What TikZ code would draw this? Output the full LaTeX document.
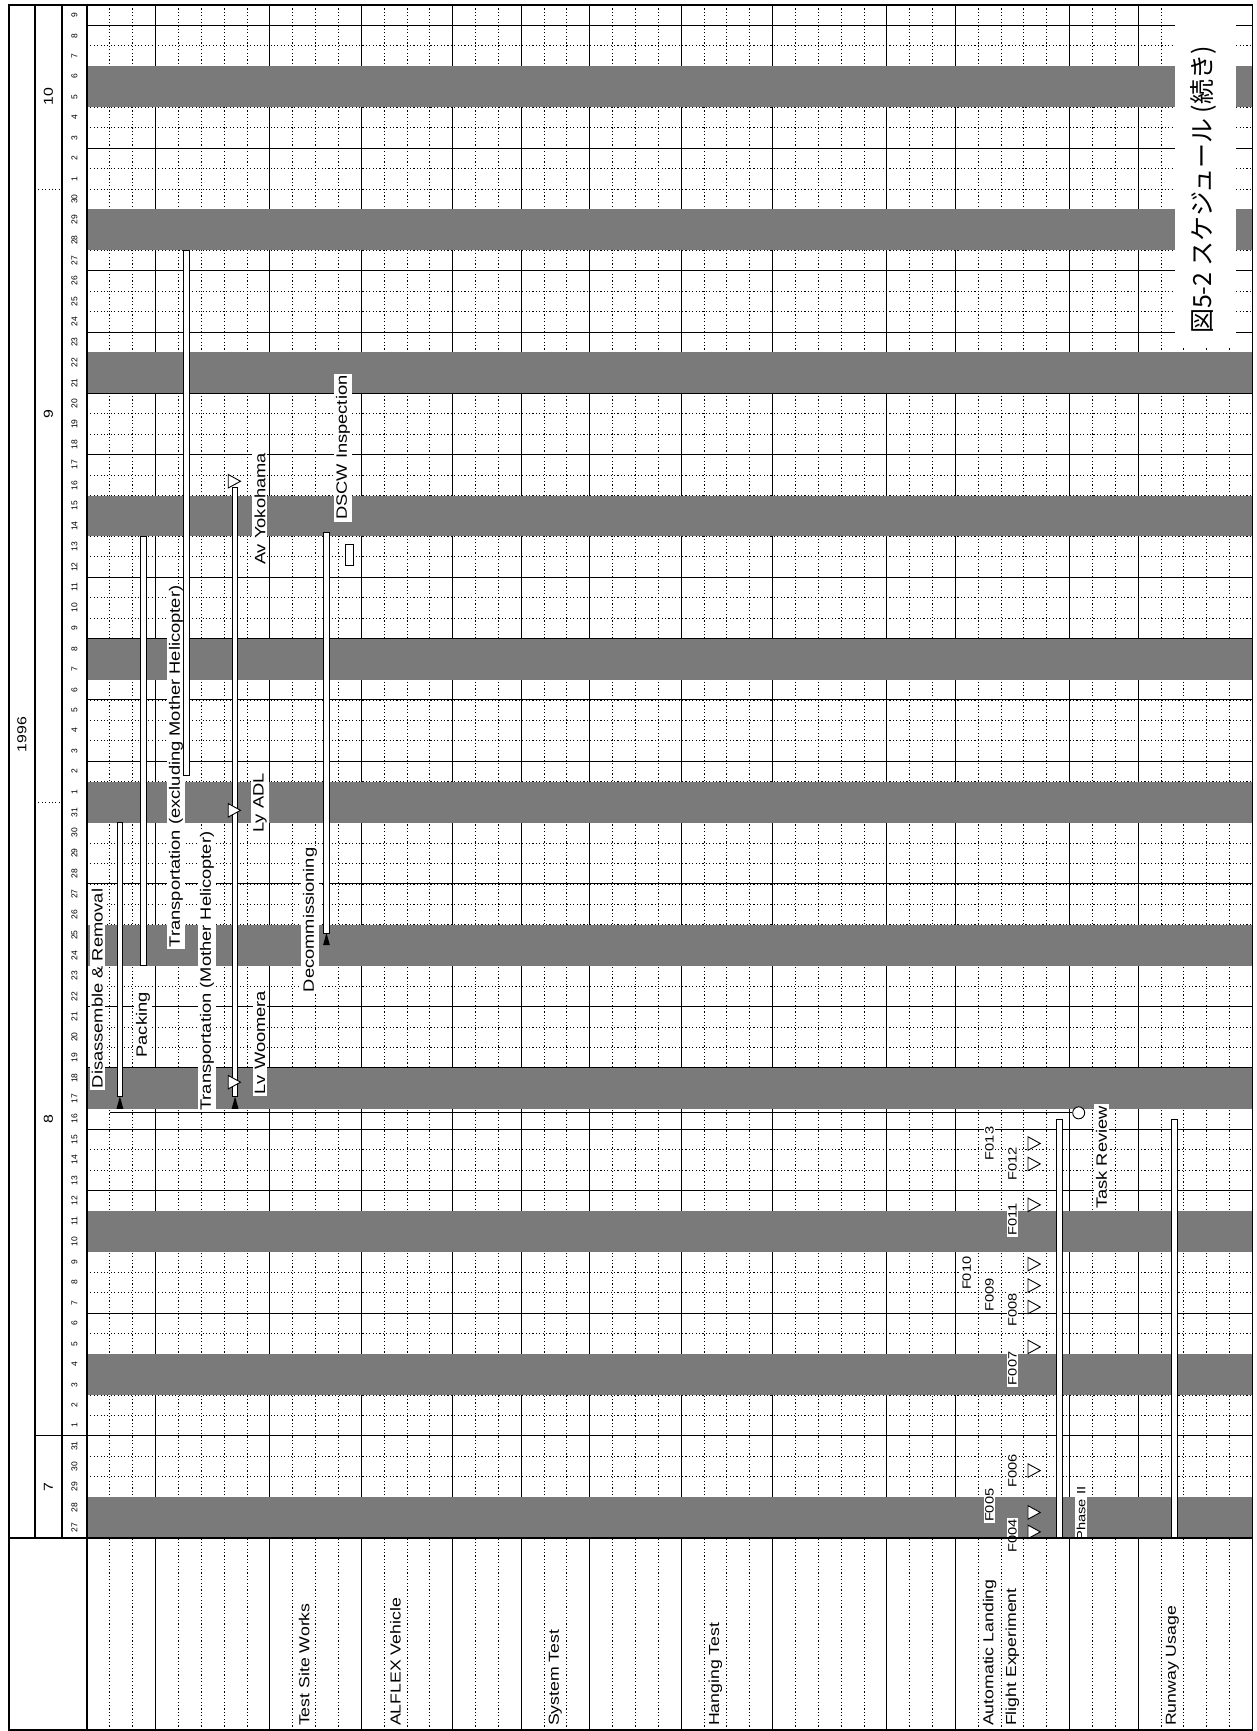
\documentclass[tikz,border=0pt]{standalone}
\usepackage{fontspec}
\setmainfont{Liberation Sans}
\newfontfamily\lblfont[FakeStretch=1.22]{Liberation Sans}
\newfontfamily\capfont{Noto Sans CJK JP}
\usetikzlibrary{positioning}
\tikzset{
  dotline/.style={line width=0.8pt, dash pattern=on 1.1pt off 2.3pt},
  thinrule/.style={line width=1pt},
  frame/.style={line width=1.6pt},
  weekend/.style={fill=black!52},
  tasklabel/.style={rotate=90, anchor=west, fill=white, inner sep=2pt,
    font=\lblfont\fontsize{15}{15}\selectfont},
  rowlabel/.style={rotate=90, anchor=west, inner sep=1pt,
    font=\lblfont\fontsize{14.5}{15}\selectfont},
  flightlabel/.style={rotate=90, fill=white, inner sep=1.5pt,
    font=\lblfont\fontsize{12}{12}\selectfont},
  daynum/.style={rotate=90, inner sep=0pt, font=\fontsize{8.5}{9}\selectfont},
  monthnum/.style={rotate=90, inner sep=0pt, font=\lblfont\fontsize{13}{13}\selectfont},
  taskbar/.style={draw, line width=0.9pt, fill=white},
  milestone/.style={draw, line width=0.9pt, fill=white},
  startmark/.style={fill=black},
}
% bar: column position, first day, last day
\newcommand\taskbar[3]{\draw[taskbar] (#1-0.12,#2) rectangle (#1+0.12,#3);}
% open milestone triangle pointing right
\newcommand\flagtri[2]{\draw[milestone] (#1-0.27,#2+0.33) -- (#1+0.27,#2) -- (#1-0.27,#2-0.33) -- cycle;}
% filled start mark pointing up
\newcommand\startmark[2]{\fill (#1-0.15,#2) -- (#1+0.15,#2) -- (#1,#2+0.6) -- cycle;}

\begin{document}
\begin{tikzpicture}[x=22.85pt,y=20.44pt]
  \useasboundingbox (-3.8074,-9.442) rectangle (51.2035,75.245);
  \fill[white] (-3.8074,-9.442) rectangle (51.2035,75.245);

  % grid: one column per row of the chart, one line per day
  \foreach \d in {1,...,74} \draw[dotline] (0,\d) -- (51,\d);
  \foreach \d in {2,5,...,74} \draw[thinrule] (0,\d) -- (51,\d);
  \foreach \k in {1,...,50} \draw[dotline] (\k,-9.39) -- (\k,75);
  \foreach \k in {3,8,12,16,19,22,26,30,35,38,43,46} \draw[thinrule] (\k,-9.39) -- (\k,75);

  % weekends
  \foreach \w in {0,7,...,70} \fill[weekend] (0,\w) rectangle (51,\w+2);

  % header: year, months, days
  \draw[frame] (-2.276,0) -- (-2.276,75);
  \draw[frame] (-1.094,0) -- (-1.094,75);
  \draw[thinrule] (-2.276,5) -- (0,5);
  \draw[dotline] (-2.276,36) -- (-1.094,36);
  \draw[dotline] (-2.276,66) -- (-1.094,66);
  \node[monthnum] (year) at (-2.85,39.3) {1996};
  \node[monthnum] (jul) at (-1.685,2.5) {7};
  \node[monthnum] (aug) at (-1.685,20.5) {8};
  \node[monthnum] (sep) at (-1.685,55) {9};
  \node[monthnum] (oct) at (-1.685,70.5) {10};
  \foreach \n in {27,...,31} \node[daynum] at (-0.55,\n-26.5) {\n};
  \foreach \n in {1,...,31} \node[daynum] at (-0.55,\n+4.5) {\n};
  \foreach \n in {1,...,30} \node[daynum] at (-0.55,\n+35.5) {\n};
  \foreach \n in {1,...,9} \node[daynum] at (-0.55,\n+65.5) {\n};

  % test site works
  \node[tasklabel] (dis) at (0.45,21.9) {Disassemble \& Removal};
  \taskbar{1.44}{21.6}{35}
  \startmark{1.44}{21}
  \node[tasklabel] (pack) at (2.45,23.4) {Packing};
  \taskbar{2.47}{28}{49}
  \node[tasklabel] (trex) at (3.9,28.8) {Transportation (excluding Mother Helicopter)};
  \taskbar{4.35}{37.3}{63}
  \node[tasklabel] (trmh) at (5.25,20.8) {Transportation (Mother Helicopter)};
  \node[tasklabel] (lvw) at (7.57,21.6) {Lv Woomera};
  \node[tasklabel] (lvadl) at (7.57,34.4) {Ly ADL};
  \node[tasklabel] (avyk) at (7.57,47.5) {Av Yokohama};
  \taskbar{6.48}{21.6}{51.4}
  \startmark{6.48}{21}
  \flagtri{6.45}{22.3}
  \flagtri{6.45}{35.6}
  \flagtri{6.45}{51.7}
  \node[tasklabel] (decom) at (9.76,26.6) {Decommissioning};
  \taskbar{10.48}{29.6}{49.2}
  \startmark{10.48}{29}
  \node[tasklabel] (dscw) at (11.2,49.7) {DSCW Inspection};
  \draw[milestone] (11.3,47.6) rectangle (11.65,48.6);

  % flight experiment
  \foreach \f/\k/\d in {F004/40.5/0.1,F005/39.5/1.6,F006/40.5/3.3,F007/40.5/8.3,
      F008/40.5/11.15,F009/39.5/11.9,F010/38.5/12.95,F011/40.5/15.6,
      F012/40.5/18.3,F013/39.5/19.3}
    \node[flightlabel] (\f) at (\k,\d) {\f};
  \foreach \d in {0.3,1.25,3.3,9.35,11.3,12.35,13.4,16.3,18.3,19.3}
    \flagtri{41.45}{\d}
  \taskbar{42.56}{0}{20.5}
  \node[flightlabel, anchor=west] (ph2) at (43.5,-0.2) {Phase II};
  \node[tasklabel] (trev) at (44.4,16.0) {Task Review};
  \draw[milestone] (43.4,20.8) circle (6pt);
  \draw[thinrule] (1.0,20.8) -- (43.1,20.8);
  \taskbar{47.6}{0}{20.5}

  % caption
  \fill[white] (47.6,58.3) rectangle (50.3,75);
  \node[rotate=90, anchor=west, inner sep=0pt,
    font=\capfont\fontsize{25}{25}\selectfont] (cap) at (48.84,58.9) {図5-2 スケジュール (続き)};

  % row labels
  \node[rowlabel] (tsw) at (9.5,-9.25) {Test Site Works};
  \node[rowlabel] (veh) at (13.5,-9.25) {ALFLEX Vehicle};
  \node[rowlabel] (sys) at (20.5,-9.25) {System Test};
  \node[rowlabel] (hang) at (27.5,-9.25) {Hanging Test};
  \node[rowlabel] (auto) at (39.5,-9.25) {Automatic Landing};
  \node[rowlabel] (flex) at (40.5,-9.25) {Flight Experiment};
  \node[rowlabel] (rwy) at (47.5,-9.25) {Runway Usage};

  % frames
  \draw[frame] (0,-9.39) -- (0,75);
  \draw[frame] (-3.414,0) -- (51,0);
  \draw[frame] (-3.414,-9.39) rectangle (51,75);
\end{tikzpicture}
\end{document}
